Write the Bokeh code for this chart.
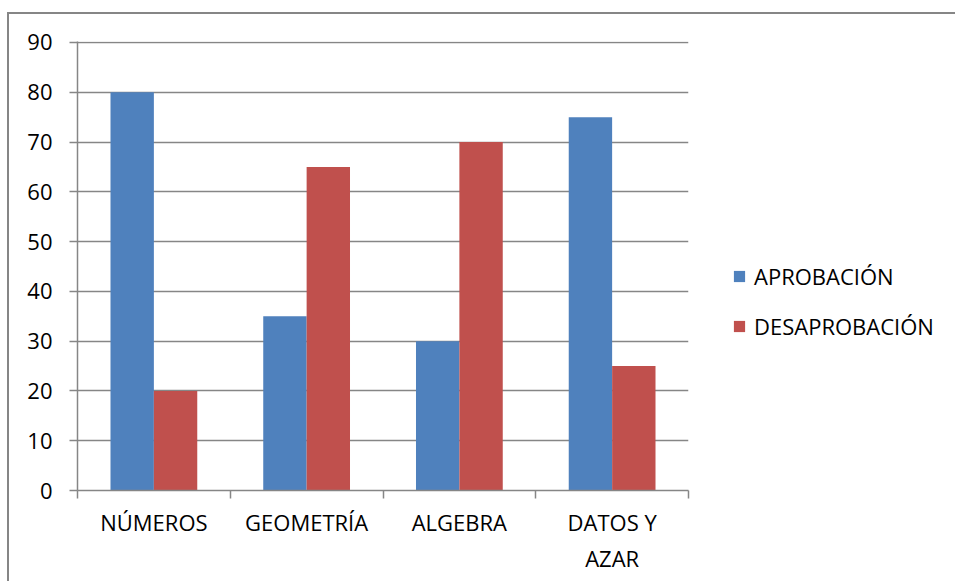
from bokeh.plotting import figure
from bokeh.models import (ColumnDataSource, FixedTicker, Range1d, Legend, LegendItem)
from bokeh.transform import dodge
from bokeh.embed import file_html
from bokeh.resources import INLINE

categories = ["NÚMEROS", "GEOMETRÍA", "ALGEBRA", "DATOS Y\nAZAR"]
aprobacion = [80, 35, 30, 75]
desaprobacion = [20, 65, 70, 25]
series_names = ["APROBACIÓN", "DESAPROBACIÓN"]
y_ticks = [0, 10, 20, 30, 40, 50, 60, 70, 80, 90]

BLUE = "#4F81BD"
RED = "#C0504D"
GRAY = "#868686"
FONT = "Open Sans"
FS = "22px"

idx = list(range(len(categories)))
centers = [i + 0.5 for i in idx]
src = ColumnDataSource(dict(x=centers, a=aprobacion, d=desaprobacion))

p = figure(width=946, height=569, output_backend="svg", toolbar_location=None,
           x_range=Range1d(0, len(categories)), y_range=Range1d(0, 90.2),
           min_border_left=68, min_border_right=267, min_border_top=27,
           min_border_bottom=93, frame_width=611, frame_height=449)
p.outline_line_color = None
p.background_fill_color = "white"
p.border_fill_color = "white"
p.styles = {"margin-left": "9px", "margin-top": "14px",
            "box-shadow": "-2px -2px 0px 0px #868686"}

bw = 0.284
r1 = p.vbar(x=dodge("x", -bw / 2, range=p.x_range), top="a", width=bw, bottom=0,
            source=src, fill_color=BLUE, line_color=None)
r2 = p.vbar(x=dodge("x", bw / 2, range=p.x_range), top="d", width=bw, bottom=0,
            source=src, fill_color=RED, line_color=None)

# x axis
xa = p.xaxis[0]
xa.ticker = FixedTicker(ticks=centers, minor_ticks=[0] + [i + 1 for i in idx])
xa.major_label_overrides = {c: lab for c, lab in zip(centers, categories)}
xa.major_tick_line_color = None
xa.major_tick_out = 0
xa.major_tick_in = 0
xa.minor_tick_line_color = GRAY
xa.minor_tick_line_width = 1.5
xa.minor_tick_out = 8
xa.minor_tick_in = 0
xa.axis_line_color = GRAY
xa.axis_line_width = 1.5
xa.major_label_standoff = 8
xa.major_label_text_font = FONT
xa.major_label_text_font_size = FS
xa.major_label_text_color = "black"

# y axis
ya = p.yaxis[0]
ya.ticker = FixedTicker(ticks=y_ticks)
ya.major_tick_out = 8
ya.major_tick_in = 0
ya.major_tick_line_color = GRAY
ya.major_tick_line_width = 1.5
ya.minor_tick_line_color = None
ya.axis_line_color = GRAY
ya.axis_line_width = 1.5
ya.major_label_standoff = 17
ya.major_label_text_font = FONT
ya.major_label_text_font_size = FS
ya.major_label_text_color = "black"

p.xgrid.grid_line_color = None
p.ygrid.ticker = FixedTicker(ticks=y_ticks)
p.ygrid.grid_line_color = GRAY
p.ygrid.grid_line_width = 1.5

legend = Legend(items=[LegendItem(label=series_names[0], renderers=[r1]),
                       LegendItem(label=series_names[1], renderers=[r2])],
                location=(44, 149), orientation="vertical")
legend.border_line_color = None
legend.background_fill_alpha = 0
legend.padding = 0
legend.margin = 0
legend.spacing = 20
legend.glyph_width = 14
legend.glyph_height = 14
legend.label_height = 24
legend.label_standoff = 8
legend.label_text_font = FONT
legend.label_text_font_size = FS
legend.label_text_color = "black"
p.add_layout(legend, "right")

open("out.html", "w").write(file_html(p, INLINE))
